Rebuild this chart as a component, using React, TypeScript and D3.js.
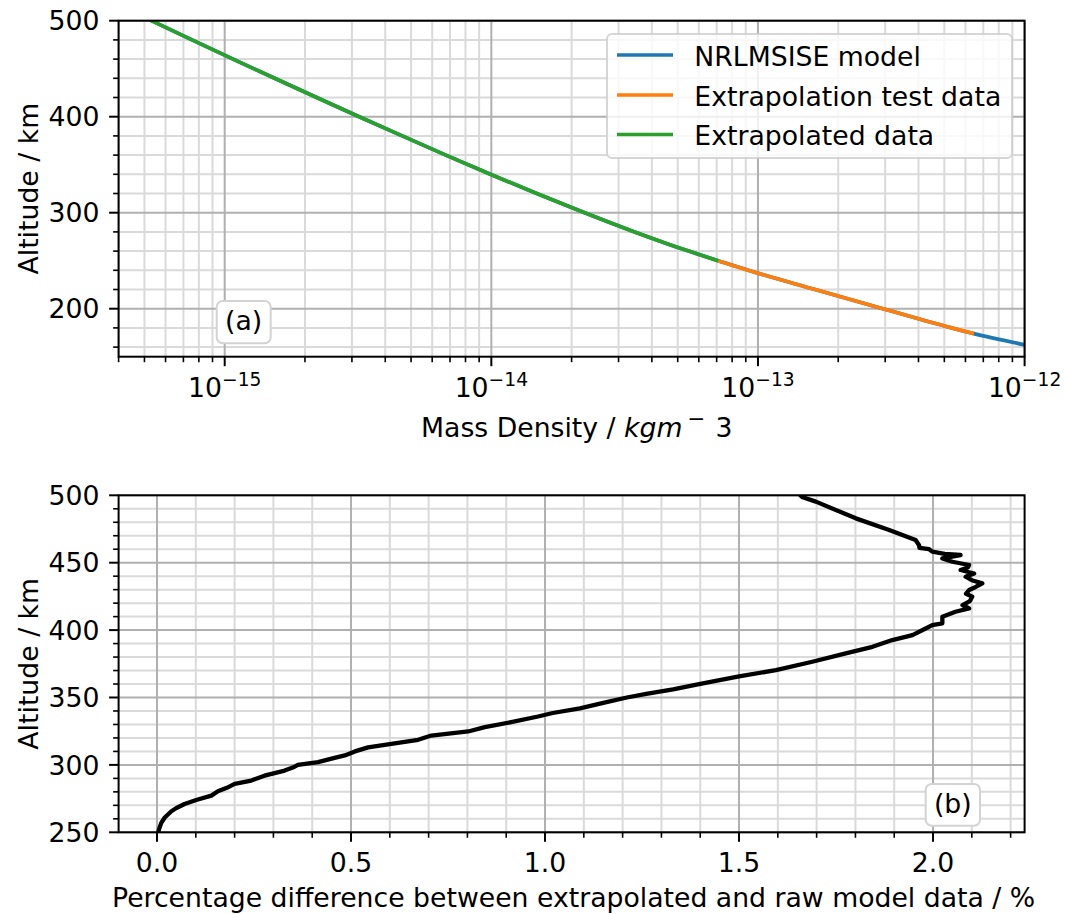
import React from 'react';
import * as d3 from 'd3';

// ---------- Data ----------
// Panel (a): NRLMSISE model mass density vs altitude
const modelAltitudeKm = [500, 480, 460, 440, 420, 400, 380, 360, 340, 320, 300, 280, 260, 250, 240, 220, 200, 180, 174, 160, 150];
const modelDensity = [5.31e-16, 7.54e-16, 1.075e-15, 1.539e-15, 2.213e-15, 3.194e-15, 4.632e-15, 6.75e-15, 9.917e-15, 1.48e-14, 2.239e-14, 3.448e-14, 5.497e-14, 7.09e-14, 9.19e-14, 1.639e-13, 2.942e-13, 5.325e-13, 6.457e-13, 1.1e-12, 1.665e-12];
// Extrapolation test data (orange)
const testAltitudeKm = [250, 240, 220, 200, 180, 174];
const testDensity = [7.09e-14, 9.19e-14, 1.639e-13, 2.942e-13, 5.325e-13, 6.457e-13];
// Extrapolated data (green)
const extrapAltitudeKm = [500, 480, 460, 440, 420, 400, 380, 360, 340, 320, 300, 280, 260, 250];
const extrapDensity = [5.31e-16, 7.54e-16, 1.075e-15, 1.539e-15, 2.213e-15, 3.194e-15, 4.632e-15, 6.75e-15, 9.917e-15, 1.48e-14, 2.239e-14, 3.448e-14, 5.497e-14, 7.09e-14];

// Panel (b): percentage difference vs altitude
const diffAltitudeKm = [250, 253, 257, 261, 265.6, 268, 271, 274, 277.2, 280.4, 283, 285.9, 288.4, 292, 295.8, 298, 300, 302, 305, 307, 310, 313, 315.6, 318.6, 321.8, 324.8, 328, 331.7, 335.9, 338.5, 342, 346, 350, 352.7, 356, 360, 365.6, 370.3, 376.5, 382.7, 387.6, 392.6, 396.3, 401.2, 403.7, 405, 409.9, 413.6, 416.1, 418.6, 421.5, 424.8, 427, 429.7, 432, 434.7, 437, 439.6, 442, 444.6, 446.5, 448.3, 450.7, 453.2, 455.7, 456.5, 458.2, 460, 461, 463, 466.8, 474.3, 482.9, 495.3, 498.5, 500];
const diffPercent = [0.003, 0.006, 0.011, 0.02, 0.037, 0.05, 0.071, 0.101, 0.14, 0.157, 0.18, 0.2, 0.243, 0.277, 0.329, 0.35, 0.363, 0.415, 0.455, 0.484, 0.51, 0.544, 0.604, 0.673, 0.707, 0.802, 0.845, 0.913, 0.982, 1.02, 1.09, 1.15, 1.211, 1.261, 1.33, 1.397, 1.5, 1.595, 1.689, 1.775, 1.844, 1.895, 1.947, 1.981, 1.998, 2.024, 2.024, 2.058, 2.093, 2.076, 2.095, 2.101, 2.085, 2.093, 2.11, 2.127, 2.1, 2.084, 2.106, 2.071, 2.09, 2.093, 2.05, 2.024, 2.071, 2.03, 1.998, 1.99, 1.965, 1.964, 1.955, 1.887, 1.801, 1.698, 1.664, 1.658];

// Ticks
const densityTickExponents = [-15, -14, -13, -12];
const topAltitudeTicks = [200, 300, 400, 500];
const bottomAltitudeTicks = [250, 300, 350, 400, 450, 500];
const percentTicks = [0, 0.5, 1.0, 1.5, 2.0];
const percentTickLabels = ['0.0', '0.5', '1.0', '1.5', '2.0'];

const seriesNames = ['NRLMSISE model', 'Extrapolation test data', 'Extrapolated data'];
const seriesColors = ['#1f77b4', '#ff7f0e', '#2ca02c'];

// ---------- Layout ----------
const W = 1066;
const H = 914;
const FONT = "'DejaVu Sans', 'Liberation Sans', sans-serif";
const FS = 26.7;
const L = 118.6;
const R = 1024.6;
const topP = { t: 20.7, b: 356.7 };
const botP = { t: 495.3, b: 832.3 };
const MAJ_GRID = '#b0b0b0';
const MIN_GRID = '#dadada';

export default function App() {
  const xTop = d3.scaleLog().domain([4e-16, 1e-12]).range([L, R]);
  const yTop = d3.scaleLinear().domain([150, 500]).range([topP.b, topP.t]);
  const xBot = d3.scaleLinear().domain([-0.099, 2.236]).range([L, R]);
  const yBot = d3.scaleLinear().domain([250, 500]).range([botP.b, botP.t]);

  // minor ticks
  const topXMinor: number[] = [];
  for (let e = -16; e <= -13; e++) {
    for (let m = 2; m <= 9; m++) {
      const v = m * Math.pow(10, e);
      if (v >= 4e-16 * 0.999 && v <= 1e-12) topXMinor.push(v);
    }
  }
  const topYMinor = d3.range(160, 500, 20).filter((v) => v % 100 !== 0);
  const botXMinor = d3.range(1, 23).map((i) => i / 10).filter((v) => Math.abs(v * 2 - Math.round(v * 2)) > 1e-6);
  const botYMinor = d3.range(260, 500, 10).filter((v) => v % 50 !== 0);

  const lineTop = (alts: number[], dens: number[]) =>
    d3
      .line<number>()
      .x((i) => xTop(dens[i]))
      .y((i) => yTop(alts[i]))
      .curve(d3.curveMonotoneY)(alts.map((_, i) => i)) || '';

  const lineBot =
    d3
      .line<number>()
      .x((i) => xBot(diffPercent[i]))
      .y((i) => yBot(diffAltitudeKm[i]))(diffAltitudeKm.map((_, i) => i)) || '';

  const LW = 3.7;

  const vGrid = (xs: number[], sc: (v: number) => number, t: number, b: number, color: string, key: string) =>
    xs.map((v, i) => (
      <line key={key + i} x1={sc(v)} x2={sc(v)} y1={t} y2={b} stroke={color} strokeWidth={2} />
    ));
  const hGrid = (ys: number[], sc: (v: number) => number, color: string, key: string) =>
    ys.map((v, i) => <line key={key + i} x1={L} x2={R} y1={sc(v)} y2={sc(v)} stroke={color} strokeWidth={2} />);

  const xTicks = (xs: number[], sc: (v: number) => number, b: number, len: number, w: number, key: string) =>
    xs.map((v, i) => <line key={key + i} x1={sc(v)} x2={sc(v)} y1={b} y2={b + len} stroke="#000" strokeWidth={w} />);
  const yTicks = (ys: number[], sc: (v: number) => number, len: number, w: number, key: string) =>
    ys.map((v, i) => <line key={key + i} x1={L - len} x2={L} y1={sc(v)} y2={sc(v)} stroke="#000" strokeWidth={w} />);

  const legendX = 607;
  const legendY = 34;
  const legendW = 405;
  const legendH = 124;
  const rowY = [55, 95, 134.5];

  return (
    <svg
      width={W}
      height={H}
      viewBox={`0 0 ${W} ${H}`}
      style={{ position: 'absolute', left: 0, top: 0, background: '#fff' }}
      fontFamily={FONT}
    >
      <defs>
        <clipPath id="clipTop">
          <rect x={L} y={topP.t} width={R - L} height={topP.b - topP.t} />
        </clipPath>
        <clipPath id="clipBot">
          <rect x={L} y={botP.t} width={R - L} height={botP.b - botP.t} />
        </clipPath>
      </defs>
      <rect x={0} y={0} width={W} height={H} fill="#fff" />

      {/* ---------- Panel (a) ---------- */}
      <g>
        {vGrid(topXMinor, xTop, topP.t, topP.b, MIN_GRID, 'tgxm')}
        {hGrid(topYMinor, yTop, MIN_GRID, 'tgym')}
        {vGrid(densityTickExponents.map((e) => Math.pow(10, e)), xTop, topP.t, topP.b, MAJ_GRID, 'tgx')}
        {hGrid(topAltitudeTicks, yTop, MAJ_GRID, 'tgy')}
        <g clipPath="url(#clipTop)">
          <path d={lineTop(modelAltitudeKm, modelDensity)} fill="none" stroke={seriesColors[0]} strokeWidth={LW} strokeLinecap="square" />
          <path d={lineTop(testAltitudeKm, testDensity)} fill="none" stroke={seriesColors[1]} strokeWidth={LW} />
          <path d={lineTop(extrapAltitudeKm, extrapDensity)} fill="none" stroke={seriesColors[2]} strokeWidth={LW} />
        </g>
        {xTicks(topXMinor, xTop, topP.b, 5.5, 1.6, 'ttxm')}
        {xTicks(densityTickExponents.map((e) => Math.pow(10, e)), xTop, topP.b, 9.5, 2, 'ttx')}
        {yTicks(topYMinor, yTop, 5.5, 1.6, 'ttym')}
        {yTicks(topAltitudeTicks, yTop, 9.5, 2, 'tty')}
        <rect x={L} y={topP.t} width={R - L} height={topP.b - topP.t} fill="none" stroke="#000" strokeWidth={2} />
        {densityTickExponents.map((e, i) => (
          <text key={'tl' + i} x={xTop(Math.pow(10, e))} y={396.7} textAnchor="middle" fontSize={FS} fill="#000">
            <tspan>10</tspan>
            <tspan dy={-11} fontSize={FS * 0.7}>{'\u2212' + Math.abs(e)}</tspan>
          </text>
        ))}
        {topAltitudeTicks.map((v, i) => (
          <text key={'tyl' + i} x={99.5} y={yTop(v) + 9.7} textAnchor="end" fontSize={FS} fill="#000">
            {v}
          </text>
        ))}
        <text x={421} y={437} textAnchor="start" fontSize={FS} fill="#000">
          <tspan>Mass Density / </tspan>
          <tspan fontStyle="italic">kgm</tspan>
          <tspan dx={5} dy={-11} fontSize={FS * 0.8}>{'\u2212'}</tspan>
          <tspan dx={10} dy={11}>3</tspan>
        </text>
        <text
          transform={`translate(38, ${(topP.t + topP.b) / 2}) rotate(-90)`}
          textAnchor="middle"
          fontSize={FS}
          fill="#000"
        >
          Altitude / km
        </text>
        {/* annotation (a) */}
        <rect x={216.7} y={301} width={54} height={42.3} rx={6} fill="#fff" stroke="#d3d3d3" strokeWidth={2} />
        <text x={243.7} y={330} textAnchor="middle" fontSize={FS} fill="#000">
          (a)
        </text>
        {/* legend */}
        <rect
          x={legendX}
          y={legendY}
          width={legendW}
          height={legendH}
          rx={5}
          fill="#fff"
          fillOpacity={0.8}
          stroke="#cccccc"
          strokeOpacity={0.8}
          strokeWidth={2}
        />
        {seriesNames.map((name, i) => (
          <g key={'lg' + i}>
            <line x1={617} x2={673} y1={rowY[i]} y2={rowY[i]} stroke={seriesColors[i]} strokeWidth={LW} />
            <text x={694.3} y={rowY[i] + 10.5} fontSize={FS} fill="#000">
              {name}
            </text>
          </g>
        ))}
      </g>

      {/* ---------- Panel (b) ---------- */}
      <g>
        {vGrid(botXMinor, xBot, botP.t, botP.b, MIN_GRID, 'bgxm')}
        {hGrid(botYMinor, yBot, MIN_GRID, 'bgym')}
        {vGrid(percentTicks, xBot, botP.t, botP.b, MAJ_GRID, 'bgx')}
        {hGrid(bottomAltitudeTicks, yBot, MAJ_GRID, 'bgy')}
        <g clipPath="url(#clipBot)">
          <path d={lineBot} fill="none" stroke="#000" strokeWidth={4.3} strokeLinejoin="round" strokeLinecap="round" />
        </g>
        {xTicks(botXMinor, xBot, botP.b, 5.5, 1.6, 'btxm')}
        {xTicks(percentTicks, xBot, botP.b, 9.5, 2, 'btx')}
        {yTicks(botYMinor, yBot, 5.5, 1.6, 'btym')}
        {yTicks(bottomAltitudeTicks, yBot, 9.5, 2, 'bty')}
        <rect x={L} y={botP.t} width={R - L} height={botP.b - botP.t} fill="none" stroke="#000" strokeWidth={2} />
        {percentTicks.map((v, i) => (
          <text key={'bxl' + i} x={xBot(v)} y={871.7} textAnchor="middle" fontSize={FS} fill="#000">
            {percentTickLabels[i]}
          </text>
        ))}
        {bottomAltitudeTicks.map((v, i) => (
          <text key={'byl' + i} x={99.5} y={yBot(v) + 9.7} textAnchor="end" fontSize={FS} fill="#000">
            {v}
          </text>
        ))}
        <text x={(L + R) / 2 + 2} y={907} textAnchor="middle" fontSize={FS} fill="#000">
          Percentage difference between extrapolated and raw model data / %
        </text>
        <text
          transform={`translate(38, ${(botP.t + botP.b) / 2}) rotate(-90)`}
          textAnchor="middle"
          fontSize={FS}
          fill="#000"
        >
          Altitude / km
        </text>
        {/* annotation (b) */}
        <rect x={925.7} y={784} width={54.3} height={41.7} rx={6} fill="#fff" stroke="#d3d3d3" strokeWidth={2} />
        <text x={952.8} y={812.5} textAnchor="middle" fontSize={FS} fill="#000">
          (b)
        </text>
      </g>
    </svg>
  );
}
